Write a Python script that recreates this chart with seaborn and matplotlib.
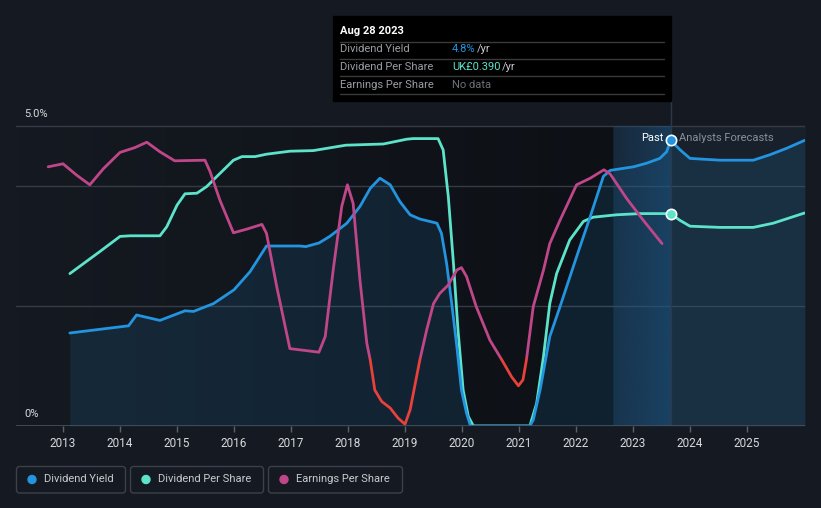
import numpy as np
import pandas as pd
import matplotlib
matplotlib.use("Agg")
import matplotlib.pyplot as plt
import seaborn as sns
from matplotlib.patches import Rectangle, FancyBboxPatch, Circle
from matplotlib.transforms import IdentityTransform
from matplotlib.lines import Line2D
from matplotlib.colors import to_rgb

# ---------------- data (chart units: 1 unit = 1% of yield scale) ----------------
yield_x = [2013.12, 2014.15, 2014.29, 2014.70, 2015.14, 2015.29, 2015.64, 2016.0, 2016.28, 2016.57,
           2017.15, 2017.26, 2017.49, 2017.68, 2017.98, 2018.21, 2018.39, 2018.56, 2018.74, 2018.91,
           2019.09, 2019.26, 2019.56, 2019.64, 2019.73, 2019.82, 2019.91, 2019.99, 2020.08, 2020.15,
           2021.19, 2021.25, 2021.37, 2021.54, 2021.72, 2022.01, 2022.25, 2022.48, 2022.60, 2023.01,
           2023.24, 2023.47, 2023.59, 2023.66]
yield_y = [1.55, 1.67, 1.85, 1.76, 1.92, 1.91, 2.04, 2.27, 2.57, 3.0,
           3.0, 2.99, 3.05, 3.16, 3.38, 3.66, 3.96, 4.13, 4.02, 3.74,
           3.52, 3.45, 3.38, 3.21, 2.71, 2.04, 1.32, 0.6, 0.21, 0.0,
           0.0, 0.1, 0.6, 1.49, 1.99, 2.82, 3.49, 4.16, 4.26, 4.32,
           4.38, 4.46, 4.57, 4.76]
yield_fc_x = [2023.66, 2023.83, 2024.0, 2024.53, 2025.11, 2025.40, 2025.70, 2026.01]
yield_fc_y = [4.76, 4.60, 4.46, 4.43, 4.43, 4.52, 4.63, 4.76]

dps_x = [2013.12, 2013.65, 2014.0, 2014.18, 2014.70, 2014.82, 2015.0, 2015.14, 2015.35, 2015.52,
         2015.70, 2015.99, 2016.14, 2016.37, 2016.57, 2016.98, 2017.39, 2017.96, 2018.62, 2019.03,
         2019.14, 2019.58, 2019.67, 2019.76, 2019.85, 2019.93, 2020.02, 2020.11, 2020.20, 2021.19,
         2021.31, 2021.43, 2021.54, 2021.66, 2021.89, 2022.13, 2022.30, 2022.71, 2023.12, 2023.66]
dps_y = [2.54, 2.91, 3.16, 3.17, 3.17, 3.32, 3.68, 3.87, 3.88, 3.99,
         4.16, 4.43, 4.49, 4.49, 4.53, 4.58, 4.59, 4.68, 4.70, 4.78,
         4.79, 4.79, 4.6, 3.82, 2.71, 1.6, 0.6, 0.16, 0.0, 0.0,
         0.38, 1.16, 2.04, 2.54, 3.1, 3.41, 3.48, 3.52, 3.54, 3.54]
dps_fc_x = [2023.66, 2023.82, 2024.0, 2024.53, 2025.11, 2025.46, 2026.01]
dps_fc_y = [3.54, 3.43, 3.33, 3.31, 3.31, 3.38, 3.55]

eps_x = [2012.74, 2013.0, 2013.24, 2013.47, 2013.71, 2014.0, 2014.26, 2014.47, 2014.70, 2014.96,
         2015.49, 2015.58, 2015.75, 2015.99, 2016.22, 2016.49, 2016.57, 2016.75, 2016.98, 2017.49,
         2017.60, 2017.74, 2017.89, 2017.99, 2018.09, 2018.21, 2018.33, 2018.39, 2018.47, 2018.59,
         2018.74, 2018.88, 2019.0, 2019.09, 2019.26, 2019.38, 2019.50, 2019.61, 2019.76, 2019.91,
         2019.99, 2020.08, 2020.25, 2020.49, 2020.70, 2020.87, 2020.99, 2021.07, 2021.13, 2021.25,
         2021.43, 2021.54, 2021.72, 2022.01, 2022.25, 2022.49, 2022.60, 2022.89, 2023.18, 2023.51]
eps_y = [4.32, 4.37, 4.18, 4.02, 4.29, 4.56, 4.64, 4.73, 4.57, 4.42,
         4.43, 4.24, 3.77, 3.22, 3.28, 3.36, 3.21, 2.32, 1.29, 1.23,
         1.49, 2.6, 3.66, 4.02, 3.71, 2.43, 1.38, 1.1, 0.6, 0.41,
         0.30, 0.13, 0.03, 0.27, 1.1, 1.6, 2.04, 2.21, 2.35, 2.6,
         2.64, 2.49, 1.99, 1.43, 1.1, 0.82, 0.67, 0.77, 1.1, 1.99,
         2.6, 3.04, 3.43, 4.02, 4.13, 4.27, 4.2, 3.79, 3.43, 3.04]
eps_zero = 1.13  # level of EPS = 0 (below drawn red)

year_ticks = list(range(2013, 2026))
year_labels = [str(y) for y in year_ticks]
legend_labels = ["Dividend Yield", "Dividend Per Share", "Earnings Per Share"]
tooltip_date = "Aug 28 2023"
tooltip_rows = ["Dividend Yield", "Dividend Per Share", "Earnings Per Share"]
today = 2023.66
highlight_start = 2022.65

# ---------------- style ----------------
sns.set_theme(style="dark")
plt.rcParams["font.family"] = ["Roboto", "DejaVu Sans"]

BG = "#151a22"
C_YIELD = "#2394df"
C_DPS = "#5de3ca"
C_EPS = "#c0468a"
C_RED = "#e8403a"
W, H = 821, 508

fig = plt.figure(figsize=(W / 100, H / 100), dpi=100, facecolor=BG)
ax = fig.add_axes([16 / W, (H - 426) / H, 789 / W, 330 / H])
ax.set_facecolor(BG)
XMIN, XMAX = 2012.175, 2026.018
ax.set_xlim(XMIN, XMAX)
ax.set_ylim(0, 5.5)

# backgrounds
def hgrad(c0, c1, n=256):
    a = np.array(to_rgb(c0)); b = np.array(to_rgb(c1))
    t = np.linspace(0, 1, n)[None, :, None]
    return a + (b - a) * t

ax.imshow(hgrad("#151a22", "#0d1015"), extent=[XMIN, highlight_start, 0, 5.0],
          aspect="auto", zorder=0, interpolation="bilinear")
ax.imshow(hgrad("#18202b", "#18202b", 2), extent=[today, XMAX, 0, 5.0],
          aspect="auto", zorder=0)
hl = np.zeros((1, 256, 4))
hl[..., 0:3] = to_rgb("#1d5685")
hl[..., 3] = np.linspace(0.25, 0.55, 256)
ax.imshow(hl, extent=[highlight_start, today, 0, 5.0], aspect="auto", zorder=1.5,
          interpolation="bilinear")

# grid
for gy in [2.0, 4.0, 5.0]:
    ax.axhline(gy, color="#363c45", lw=1, zorder=0.5)
ax.axhline(0, color="#4a505a", lw=1.2, zorder=5)
ax.plot([today, today], [0, 5.45], color="#2a3a4c", lw=1, zorder=2)

# fills
ax.fill_between(yield_x, yield_y, 0, color=C_YIELD, alpha=0.13, lw=0, zorder=1)
ax.fill_between(yield_fc_x, yield_fc_y, 0, color=C_YIELD, alpha=0.13, lw=0, zorder=1)

# lines
LW = 2.0
sns.lineplot(x=dps_x, y=dps_y, ax=ax, color=C_DPS, lw=LW, zorder=3)
sns.lineplot(x=dps_fc_x, y=dps_fc_y, ax=ax, color=C_DPS, lw=LW, zorder=3)
sns.lineplot(x=yield_x, y=yield_y, ax=ax, color=C_YIELD, lw=LW, zorder=3)
sns.lineplot(x=yield_fc_x, y=yield_fc_y, ax=ax, color=C_YIELD, lw=LW, zorder=3)

sns.lineplot(x=eps_x, y=eps_y, ax=ax, color=C_EPS, lw=LW, zorder=3.5)
ln = ax.lines[-1]
ln.set_clip_path(Rectangle((XMIN, eps_zero), XMAX - XMIN, 10, transform=ax.transData))
sns.lineplot(x=eps_x, y=eps_y, ax=ax, color=C_RED, lw=LW, zorder=3.5)
ln = ax.lines[-1]
ln.set_clip_path(Rectangle((XMIN, -1), XMAX - XMIN, eps_zero + 1, transform=ax.transData))

# markers at today
ax.scatter([yield_x[-1]], [yield_y[-1]], s=55, color=C_YIELD, edgecolor="white", lw=1.2, zorder=6)
ax.scatter([dps_x[-1]], [dps_y[-1]], s=55, color=C_DPS, edgecolor="white", lw=1.2, zorder=6)

# axes cosmetics
for s in ax.spines.values():
    s.set_visible(False)
ax.grid(False)
ax.set_yticks([])
ax.set_xticks(year_ticks)
ax.set_xticklabels(year_labels)
ax.tick_params(axis="x", colors="#5a606a", length=4, width=1, pad=4, labelcolor="#d7d9dc",
               labelsize=8.5, bottom=True)
ax.set_xlabel(""); ax.set_ylabel("")

# y labels
ax.text(XMIN + 8 / 57, 5.2, "5.0%", color="#d7d9dc", fontsize=8, va="center", ha="left")
ax.text(XMIN + 8 / 57, 0.2, "0%", color="#d7d9dc", fontsize=8, va="center", ha="left")

# past / forecasts
ax.text(today - 0.13, 4.8, "Past", color="white", fontsize=8, va="center", ha="right", zorder=7)
ax.text(today + 0.15, 4.8, "Analysts Forecasts", color="#8b9097", fontsize=8, va="center",
        ha="left", zorder=7)

# ---------------- pixel-space overlays ----------------
T = IdentityTransform()
def P(y):
    return H - y

fig.add_artist(Rectangle((333, P(101)), 338, 85, transform=T, color="black", zorder=10))
fig.text(340, P(31), tooltip_date, transform=T, color="white", fontsize=8, fontweight="bold",
         va="center", ha="left", zorder=11)
for ly in [41.5, 58.5, 76, 93.5]:
    fig.add_artist(Line2D([340, 664], [P(ly), P(ly)], transform=T, color="#3a3a3a", lw=1, zorder=11))
row_y = [49.5, 66.5, 84.5]
for ry, lab in zip(row_y, tooltip_rows):
    fig.text(340, P(ry), lab, transform=T, color="#9a9ea4", fontsize=8, va="center", ha="left", zorder=11)
fig.text(452, P(row_y[0]), "4.8%", transform=T, color=C_YIELD, fontsize=8, va="center", zorder=11)
fig.text(477, P(row_y[0]), "/yr", transform=T, color="#c8cacd", fontsize=8, va="center", zorder=11)
fig.text(452, P(row_y[1]), "UK£0.390", transform=T, color=C_DPS, fontsize=8, va="center", zorder=11)
fig.text(502, P(row_y[1]), "/yr", transform=T, color="#c8cacd", fontsize=8, va="center", zorder=11)
fig.text(452, P(row_y[2]), "No data", transform=T, color="#6d7177", fontsize=8, va="center", zorder=11)

# legend boxes
boxes = [(16.5, 125.5), (130.5, 263.5), (268.5, 402.5)]
cols = [C_YIELD, C_DPS, C_EPS]
for (x0, x1), c, lab in zip(boxes, cols, legend_labels):
    fig.add_artist(FancyBboxPatch((x0, P(493)), x1 - x0, 26.5, boxstyle="round,pad=0,rounding_size=3",
                                  transform=T, facecolor="none", edgecolor="#3b4049", lw=1, zorder=10))
    fig.add_artist(Circle((x0 + 15.5, P(479.5)), 4, transform=T, color=c, zorder=11))
    fig.text(x0 + 28, P(479.5), lab, transform=T, color="#c8cacd", fontsize=8, va="center",
             ha="left", zorder=11)

fig.savefig("out.png", dpi=100, facecolor=BG)
